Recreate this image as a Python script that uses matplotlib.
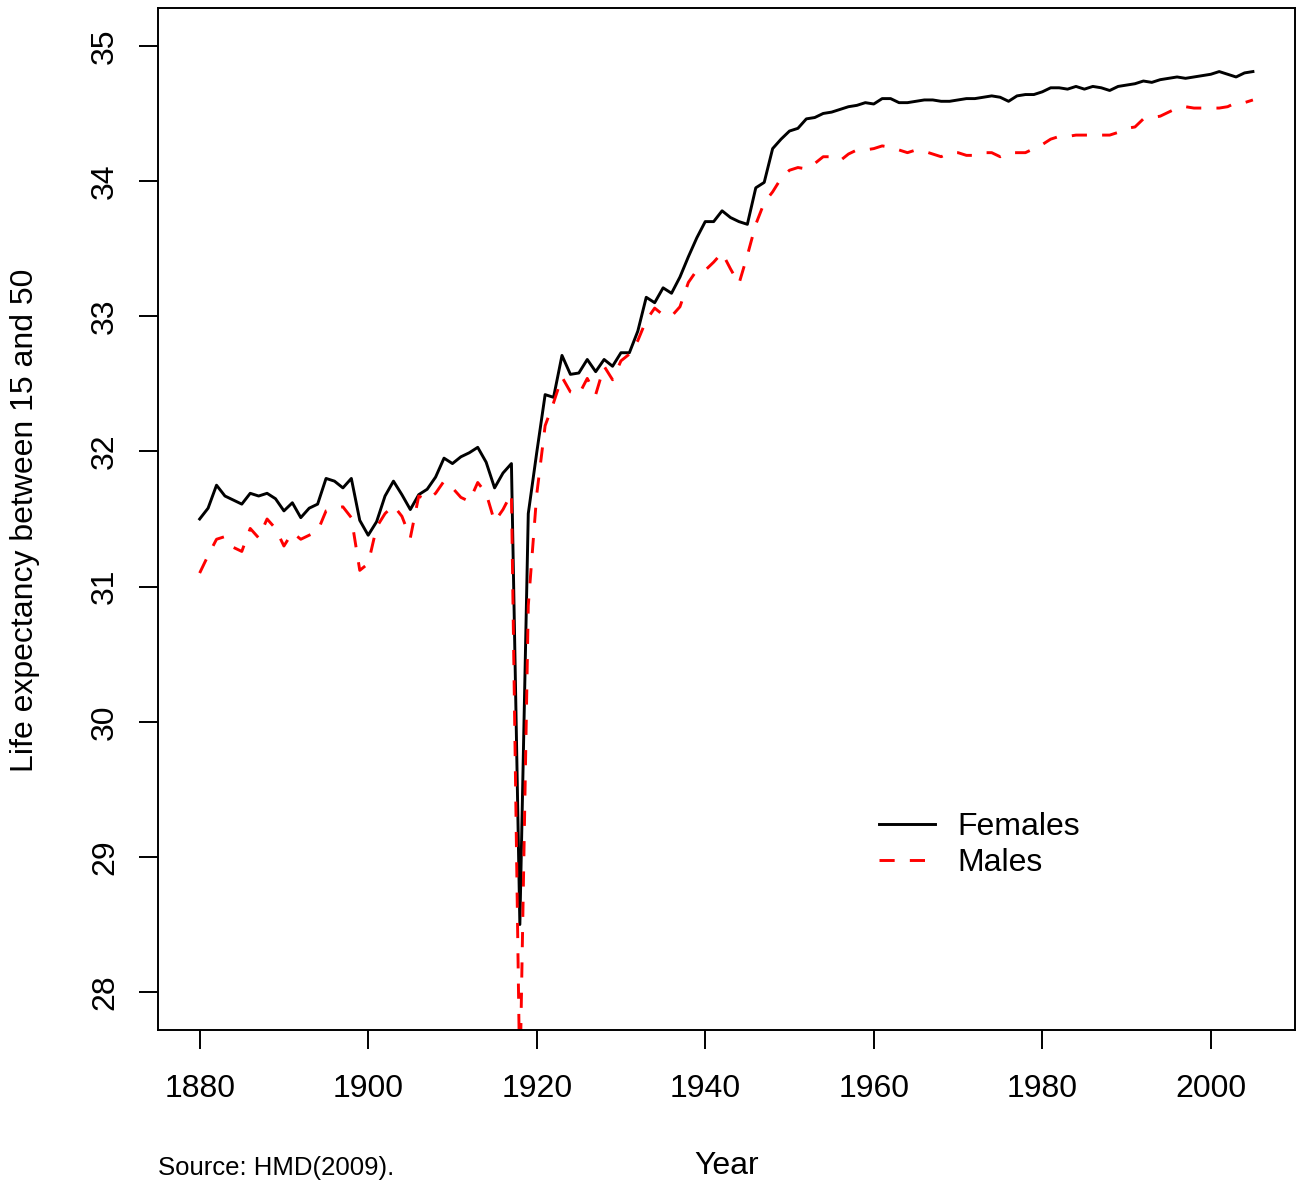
import matplotlib
matplotlib.use('Agg')
import matplotlib.pyplot as plt

plt.rcParams['font.family'] = ['Liberation Sans', 'DejaVu Sans']

years = list(range(1880, 2006))

females = [
    31.50, 31.58, 31.75, 31.67, 31.64, 31.61, 31.69, 31.67, 31.69, 31.65,  # 1880s
    31.56, 31.62, 31.51, 31.58, 31.61, 31.80, 31.78, 31.73, 31.80, 31.49,  # 1890s
    31.38, 31.48, 31.67, 31.78, 31.68, 31.57, 31.68, 31.72, 31.81, 31.95,  # 1900s
    31.91, 31.96, 31.99, 32.03, 31.92, 31.73, 31.84, 31.91, 28.50, 31.54,  # 1910s
    31.99, 32.42, 32.40, 32.71, 32.57, 32.58, 32.68, 32.59, 32.68, 32.63,  # 1920s
    32.73, 32.73, 32.89, 33.14, 33.10, 33.21, 33.17, 33.29, 33.44, 33.58,  # 1930s
    33.70, 33.70, 33.78, 33.73, 33.70, 33.68, 33.95, 33.99, 34.24, 34.31,  # 1940s
    34.37, 34.39, 34.46, 34.47, 34.50, 34.51, 34.53, 34.55, 34.56, 34.58,  # 1950s
    34.57, 34.61, 34.61, 34.58, 34.58, 34.59, 34.60, 34.60, 34.59, 34.59,  # 1960s
    34.60, 34.61, 34.61, 34.62, 34.63, 34.62, 34.59, 34.63, 34.64, 34.64,  # 1970s
    34.66, 34.69, 34.69, 34.68, 34.70, 34.68, 34.70, 34.69, 34.67, 34.70,  # 1980s
    34.71, 34.72, 34.74, 34.73, 34.75, 34.76, 34.77, 34.76, 34.77, 34.78,  # 1990s
    34.79, 34.81, 34.79, 34.77, 34.80, 34.81,                              # 2000s
]

males = [
    31.10, 31.23, 31.35, 31.37, 31.29, 31.26, 31.43, 31.36, 31.50, 31.43,
    31.30, 31.40, 31.35, 31.38, 31.41, 31.56, 31.58, 31.59, 31.51, 31.12,
    31.17, 31.44, 31.54, 31.60, 31.52, 31.36, 31.67, 31.64, 31.69, 31.78,
    31.73, 31.66, 31.63, 31.77, 31.69, 31.48, 31.57, 31.69, 27.30, 30.86,
    31.68, 32.19, 32.36, 32.55, 32.44, 32.42, 32.54, 32.42, 32.63, 32.53,
    32.67, 32.72, 32.82, 32.97, 33.06, 33.01, 33.00, 33.07, 33.25, 33.34,
    33.34, 33.40, 33.47, 33.35, 33.24, 33.45, 33.68, 33.84, 33.92, 34.02,
    34.08, 34.10, 34.09, 34.13, 34.18, 34.18, 34.15, 34.20, 34.23, 34.23,
    34.24, 34.26, 34.25, 34.23, 34.21, 34.23, 34.22, 34.20, 34.18, 34.21,
    34.21, 34.19, 34.19, 34.21, 34.21, 34.18, 34.21, 34.21, 34.21, 34.24,
    34.27, 34.31, 34.33, 34.33, 34.34, 34.34, 34.34, 34.34, 34.34, 34.36,
    34.39, 34.40, 34.46, 34.47, 34.48, 34.51, 34.54, 34.55, 34.54, 34.54,
    34.54, 34.54, 34.55, 34.58, 34.58, 34.60,
]

x_ticks = [1880, 1900, 1920, 1940, 1960, 1980, 2000]
y_ticks = [28, 29, 30, 31, 32, 33, 34, 35]

fig = plt.figure(figsize=(13.03, 11.81), dpi=100)
ax = fig.add_axes([0.1209, 0.1279, 0.8730, 0.8653])

ax.plot(years, females, color='black', linewidth=2.1, label='Females')
ax.plot(years, males, color='red', linewidth=2.1, linestyle=(0, (5.2, 5.2)), label='Males')

# R style limits: data range padded by 4%
ax.set_xlim(1875, 2010)
ax.set_ylim(27.72, 35.28)

ax.set_xticks(x_ticks)
ax.set_yticks(y_ticks)
ax.tick_params(axis='both', direction='out', length=14, width=1.4, labelsize=23, color='black')
ax.tick_params(axis='x', pad=18)
ax.tick_params(axis='y', pad=13)
for lab in ax.get_yticklabels():
    lab.set_rotation(90)
    lab.set_va('center')

for s in ax.spines.values():
    s.set_linewidth(1.4)

ax.legend(loc='upper left', bbox_to_anchor=(0.634, 0.213), frameon=False,
          fontsize=23, handlelength=1.75, handletextpad=0.72,
          labelspacing=0.18, borderpad=0, borderaxespad=0)

fig.text(0.5573, 1 - 1166 / 1181, 'Year', ha='center', va='center', fontsize=23)
fig.text(0.0195, 1 - 520 / 1181, 'Life expectancy between 15 and 50', ha='center', va='center',
         rotation=90, fontsize=23)
fig.text(158 / 1303, 1 - 1168 / 1181, 'Source: HMD(2009).', ha='left', va='center', fontsize=18.5)

fig.savefig('out.png', dpi=100)
